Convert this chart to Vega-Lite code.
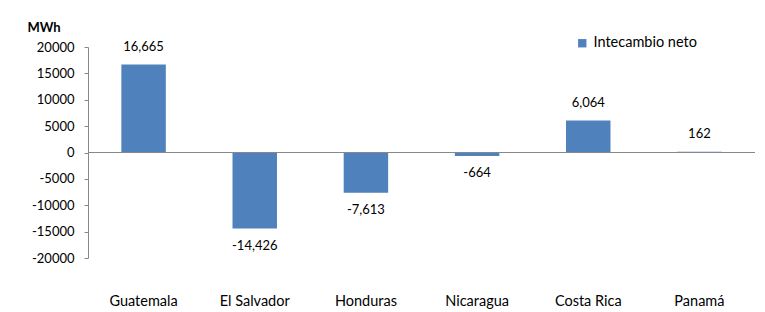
{
  "$schema": "https://vega.github.io/schema/vega-lite/v6.json",
  "autosize": "none",
  "width": 667,
  "height": 211,
  "padding": {"left": 88, "top": 47, "right": 10, "bottom": 54},
  "background": "white",
  "config": {
    "view": {"stroke": null},
    "font": "Lato",
    "locale": {"number": {"decimal": ".", "thousands": ",", "grouping": [3], "currency": ["$", ""], "minus": "-"}},
    "axis": {"labelFont": "Lato", "titleFont": "Lato", "labelColor": "#000", "titleColor": "#000"}
  },
  "data": {
    "values": [
      {"pais": "Guatemala", "valor": 16665, "serie": "Intecambio neto"},
      {"pais": "El Salvador", "valor": -14426, "serie": "Intecambio neto"},
      {"pais": "Honduras", "valor": -7613, "serie": "Intecambio neto"},
      {"pais": "Nicaragua", "valor": -664, "serie": "Intecambio neto"},
      {"pais": "Costa Rica", "valor": 6064, "serie": "Intecambio neto"},
      {"pais": "Panamá", "valor": 162, "serie": "Intecambio neto"}
    ]
  },
  "encoding": {
    "x": {
      "field": "pais", "type": "nominal", "sort": null,
      "scale": {"paddingInner": 0.6, "paddingOuter": 0.3},
      "axis": {"title": null, "domain": false, "ticks": false, "labelAngle": 0, "labelPadding": 36, "labelFontSize": 14.5}
    },
    "y": {
      "field": "valor", "type": "quantitative",
      "scale": {"domain": [-20000, 20000], "nice": false},
      "axis": {
        "values": [-20000, -15000, -10000, -5000, 0, 5000, 10000, 15000, 20000],
        "format": "d", "grid": false, "domainColor": "#888", "tickColor": "#888", "tickSize": 4,
        "labelPadding": 10, "labelFontSize": 13,
        "title": "MWh", "titleAngle": 0, "titleAlign": "left", "titleBaseline": "middle",
        "titleX": -61, "titleY": -20, "titleFontSize": 13, "titleFontWeight": "bold"
      }
    }
  },
  "layer": [
    {
      "mark": {"type": "bar"},
      "encoding": {
        "color": {
          "field": "serie", "type": "nominal",
          "scale": {"range": ["#4F81BD"]},
          "legend": {"title": null, "orient": "none", "legendX": 487, "legendY": -11, "symbolType": "square", "symbolSize": 70, "labelFontSize": 14.5, "labelFont": "Lato", "labelColor": "#000", "symbolStrokeWidth": 0}
        }
      }
    },
    {
      "mark": {"type": "rule", "color": "#888"},
      "encoding": {"y": {"datum": 0}, "x": {"value": 0}, "x2": {"value": 667}}
    },
    {
      "transform": [{"filter": "datum.valor >= 0"}],
      "mark": {"type": "text", "baseline": "bottom", "dy": -11, "fontSize": 13, "color": "#000"},
      "encoding": {"text": {"field": "valor", "type": "quantitative", "format": ","}}
    },
    {
      "transform": [{"filter": "datum.valor < 0"}],
      "mark": {"type": "text", "baseline": "top", "dy": 11, "fontSize": 13, "color": "#000"},
      "encoding": {"text": {"field": "valor", "type": "quantitative", "format": ","}}
    }
  ]
}
